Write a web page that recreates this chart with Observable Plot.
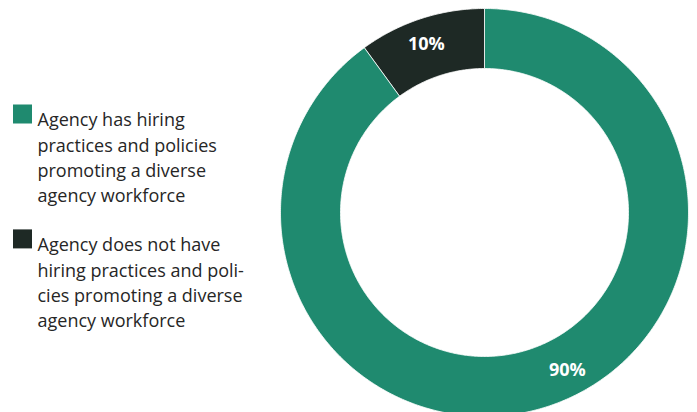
<!DOCTYPE html>
<html><head><meta charset="utf-8">
<script src="https://cdn.jsdelivr.net/npm/d3@7"></script>
<script src="https://cdn.jsdelivr.net/npm/@observablehq/plot@0.6"></script>
<style>html,body{margin:0;padding:0;background:#fff}</style>
</head><body><div id="chart"></div>
<script>
// ---- data ----
const categories = [
  "Agency has hiring practices and policies promoting a diverse agency workforce",
  "Agency does not have hiring practices and policies promoting a diverse agency workforce"
];
const legendLines = [
  ["Agency has hiring", "practices and policies", "promoting a diverse", "agency workforce"],
  ["Agency does not have", "hiring practices and poli-", "cies promoting a diverse", "agency workforce"]
];
const values = [90, 10];
const valueLabels = ["90%", "10%"];
const colors = ["#1f8a6f", "#1e2925"];

// ---- layout ----
const W = 697, H = 412;
const CX = 484, CY = 212, R_OUT = 204, R_IN = 144;
const LABEL_R = 178, LABEL_FRAC = 0.47;
const LEG_X = 13, LEG_SQ = 19, LEG_TEXT_X = 37, LEG_TOP = 108, LEG_FS = 18, LINE_H = 25.3, LEG_GAP = 23.7;
const FONT = "'Open Sans', 'Noto Sans', sans-serif";

const arcs = d3.pie().sort(null).value(d => d.value)(
  categories.map((c, i) => ({cat: c, value: values[i], label: valueLabels[i]}))
);

// polygon vertices for each ring slice, derived from pie angles
const ring = [];
for (const a of arcs) {
  const n = Math.max(8, Math.ceil((a.endAngle - a.startAngle) / 0.01));
  const ts = d3.range(n + 1).map(k => a.startAngle + (a.endAngle - a.startAngle) * k / n);
  for (const t of ts) ring.push({cat: a.data.cat, x: CX + R_OUT * Math.sin(t), y: CY - R_OUT * Math.cos(t)});
  for (const t of ts.slice().reverse()) ring.push({cat: a.data.cat, x: CX + R_IN * Math.sin(t), y: CY - R_IN * Math.cos(t)});
}
const labels = arcs.map(a => {
  const t = a.startAngle + (a.endAngle - a.startAngle) * LABEL_FRAC;
  return {label: a.data.label, x: CX + LABEL_R * Math.sin(t), y: CY - LABEL_R * Math.cos(t)};
});

let legY = LEG_TOP;
const legend = categories.map((c, i) => {
  const item = {cat: c, text: legendLines[i].join("\n"), ty: legY};
  legY += legendLines[i].length * LINE_H + LEG_GAP;
  return item;
});

const chart = Plot.plot({
  width: W, height: H,
  margin: 0,
  style: {background: "#fff", fontFamily: FONT},
  x: {type: "linear", domain: [0, W], range: [0, W], axis: null},
  y: {type: "linear", domain: [0, H], range: [0, H], axis: null},
  color: {domain: categories, range: colors},
  marks: [
    Plot.line(ring, {x: "x", y: "y", z: "cat", fill: "cat", stroke: "#ffffff", strokeWidth: 0.8, curve: "linear-closed"}),
    Plot.text(labels, {x: "x", y: "y", text: "label", fill: "#fff", fontSize: 18, fontWeight: "bold", fontFamily: FONT}),
    Plot.rect(legend, {x1: LEG_X, x2: LEG_X + LEG_SQ, y1: d => d.ty - 3.5, y2: d => d.ty - 3.5 + LEG_SQ, fill: "cat"}),
    Plot.text(legend, {x: LEG_TEXT_X, y: "ty", text: "text", textAnchor: "start", lineAnchor: "top", lineHeight: LINE_H / LEG_FS, fontSize: LEG_FS, fill: "#262626", fontFamily: FONT})
  ]
});
document.getElementById("chart").appendChild(chart);
</script>
</body></html>
